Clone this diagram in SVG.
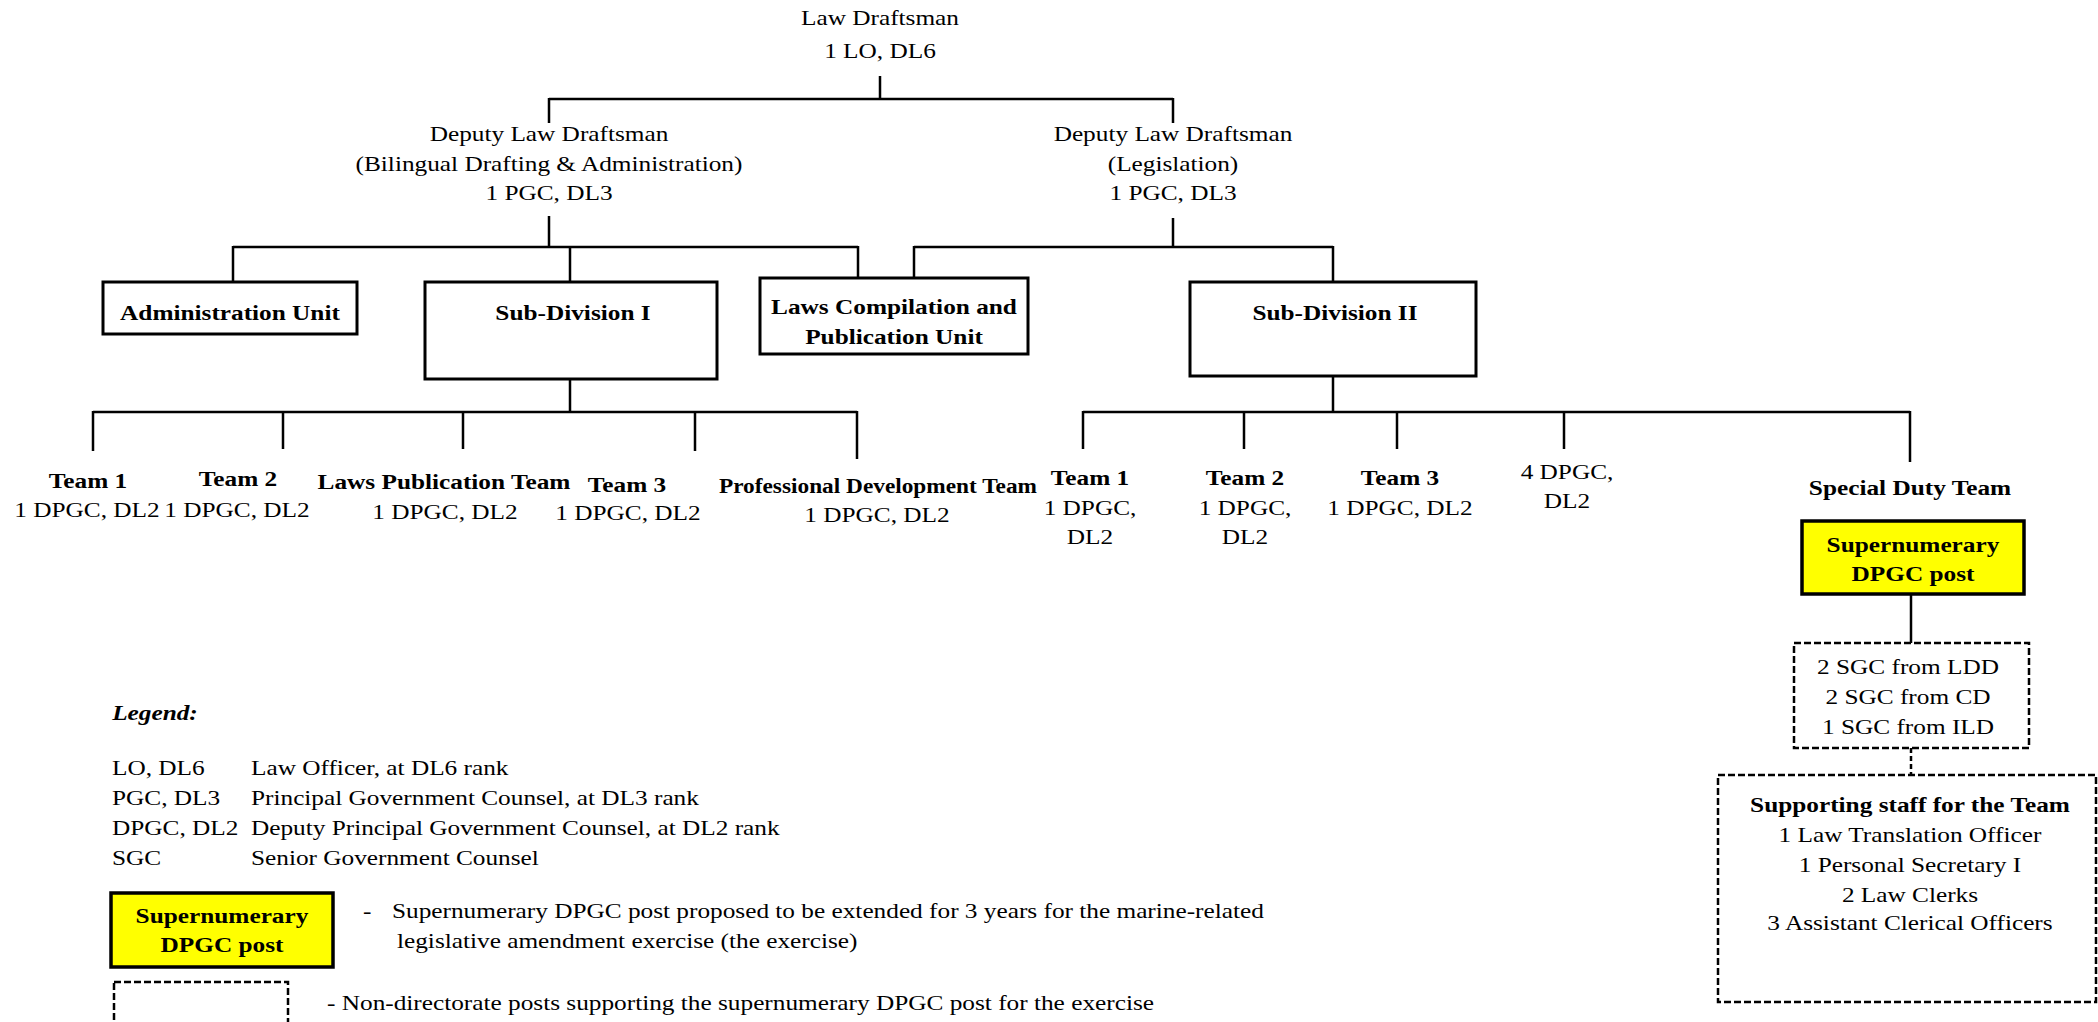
<svg xmlns="http://www.w3.org/2000/svg" width="2098" height="1022" viewBox="0 0 2098 1022">
<style>
text{font-family:"Liberation Serif","Times New Roman",serif;font-size:22px;fill:#000;}
.c{text-anchor:middle;transform-box:fill-box;transform-origin:center;transform:scaleX(1.15);}
.cn{text-anchor:middle;transform-box:fill-box;transform-origin:center;transform:scaleX(1.06);}
.l{text-anchor:start;transform-box:fill-box;transform-origin:left center;transform:scaleX(1.15);}
.b{font-weight:bold;}
.i{font-style:italic;font-weight:bold;}
.box{fill:#fff;stroke:#000;stroke-width:3;}
.yel{fill:#ffff00;stroke:#000;stroke-width:3.5;}
.dash{fill:none;stroke:#000;stroke-width:2.5;stroke-dasharray:7 3;}
.ln{stroke:#000;stroke-width:2.5;fill:none;}
.dln{stroke:#000;stroke-width:2.5;fill:none;stroke-dasharray:5 3;}
</style>
<rect width="2098" height="1022" fill="#fff"/>

<g id="connectors">
<path class="ln" d="M880 76V99M549 99H1173M549 98V123M1173 98V123"/>
<path class="ln" d="M549 216V247M233 247H858M233 246V282M570 246V282M858 246V278"/>
<path class="ln" d="M1173 218V247M914 247H1333M914 246V278M1333 246V282"/>
<path class="ln" d="M570 379V412M93 412H857M93 411V451M283 411V449M463 411V449M695 411V451M857 411V459"/>
<path class="ln" d="M1333 376V412M1083 412H1910M1083 411V449M1244 411V449M1397 411V449M1564 411V449M1910 411V462"/>
<path class="ln" d="M1911 594V643"/>
<path class="dln" d="M1911 748V775"/>
</g>

<g id="law-draftsman">
<text class="c" x="880" y="25">Law Draftsman</text>
<text class="c" x="880" y="58">1 LO, DL6</text>
</g>

<g id="deputy-bilingual">
<text class="c" x="549" y="141">Deputy Law Draftsman</text>
<text class="c" x="549" y="171">(Bilingual Drafting &amp; Administration)</text>
<text class="c" x="549" y="200">1 PGC, DL3</text>
</g>

<g id="deputy-legislation">
<text class="c" x="1173" y="141">Deputy Law Draftsman</text>
<text class="c" x="1173" y="171">(Legislation)</text>
<text class="c" x="1173" y="200">1 PGC, DL3</text>
</g>

<g id="administration-unit">
<rect class="box" x="103" y="282" width="254" height="52"/>
<text class="c b" x="230" y="320">Administration Unit</text>
</g>

<g id="sub-division-1">
<rect class="box" x="425" y="282" width="292" height="97"/>
<text class="c b" x="573" y="320">Sub-Division I</text>
</g>

<g id="laws-compilation">
<rect class="box" x="760" y="278" width="268" height="76"/>
<text class="c b" x="894" y="314">Laws Compilation and</text>
<text class="c b" x="894" y="344">Publication Unit</text>
</g>

<g id="sub-division-2">
<rect class="box" x="1190" y="282" width="286" height="94"/>
<text class="c b" x="1335" y="320">Sub-Division II</text>
</g>

<g id="sd1-team1">
<text class="c b" x="88" y="488">Team 1</text>
<text class="c" x="87" y="517">1 DPGC, DL2</text>
</g>
<g id="sd1-team2">
<text class="c b" x="238" y="486">Team 2</text>
<text class="c" x="237" y="517">1 DPGC, DL2</text>
</g>
<g id="sd1-laws-publication">
<text class="c b" x="444" y="489">Laws Publication Team</text>
<text class="c" x="445" y="519">1 DPGC, DL2</text>
</g>
<g id="sd1-team3">
<text class="c b" x="627" y="492">Team 3</text>
<text class="c" x="628" y="520">1 DPGC, DL2</text>
</g>
<g id="sd1-professional-development">
<text class="cn b" x="878" y="493">Professional Development Team</text>
<text class="c" x="877" y="522">1 DPGC, DL2</text>
</g>

<g id="sd2-team1">
<text class="c b" x="1090" y="485">Team 1</text>
<text class="c" x="1090" y="515">1 DPGC,</text>
<text class="c" x="1090" y="544">DL2</text>
</g>
<g id="sd2-team2">
<text class="c b" x="1245" y="485">Team 2</text>
<text class="c" x="1245" y="515">1 DPGC,</text>
<text class="c" x="1245" y="544">DL2</text>
</g>
<g id="sd2-team3">
<text class="c b" x="1400" y="485">Team 3</text>
<text class="c" x="1400" y="515">1 DPGC, DL2</text>
</g>
<g id="sd2-4dpgc">
<text class="c" x="1567" y="479">4 DPGC,</text>
<text class="c" x="1567" y="508">DL2</text>
</g>
<g id="special-duty-team">
<text class="c b" x="1910" y="495">Special Duty Team</text>
</g>

<g id="supernumerary-post">
<rect class="yel" x="1802" y="521" width="222" height="73"/>
<text class="c b" x="1913" y="552">Supernumerary</text>
<text class="c b" x="1913" y="581">DPGC post</text>
</g>

<g id="sgc-posts">
<rect class="dash" x="1794" y="643" width="235" height="105"/>
<text class="c" x="1908" y="674">2 SGC from LDD</text>
<text class="c" x="1908" y="704">2 SGC from CD</text>
<text class="c" x="1908" y="734">1 SGC from ILD</text>
</g>

<g id="supporting-staff">
<rect class="dash" x="1718" y="775" width="378" height="227"/>
<text class="c b" x="1910" y="812">Supporting staff for the Team</text>
<text class="c" x="1910" y="842">1 Law Translation Officer</text>
<text class="c" x="1910" y="872">1 Personal Secretary I</text>
<text class="c" x="1910" y="902">2 Law Clerks</text>
<text class="c" x="1910" y="930">3 Assistant Clerical Officers</text>
</g>

<g id="legend">
<text class="l i" x="112" y="720">Legend:</text>
<text class="l" x="112" y="775">LO, DL6</text>
<text class="l" x="251" y="775">Law Officer, at DL6 rank</text>
<text class="l" x="112" y="805">PGC, DL3</text>
<text class="l" x="251" y="805">Principal Government Counsel, at DL3 rank</text>
<text class="l" x="112" y="835">DPGC, DL2</text>
<text class="l" x="251" y="835">Deputy Principal Government Counsel, at DL2 rank</text>
<text class="l" x="112" y="865">SGC</text>
<text class="l" x="251" y="865">Senior Government Counsel</text>
<rect class="yel" x="111" y="893" width="222" height="74"/>
<text class="c b" x="222" y="923">Supernumerary</text>
<text class="c b" x="222" y="952">DPGC post</text>
<text class="l" x="363" y="918">-</text>
<text class="l" x="392" y="918">Supernumerary DPGC post proposed to be extended for 3 years for the marine-related</text>
<text class="l" x="397" y="948">legislative amendment exercise (the exercise)</text>
<rect class="dash" x="114" y="982" width="174" height="60"/>
<text class="l" x="327" y="1010">-  Non-directorate posts supporting the supernumerary DPGC post for the exercise</text>
</g>
</svg>
